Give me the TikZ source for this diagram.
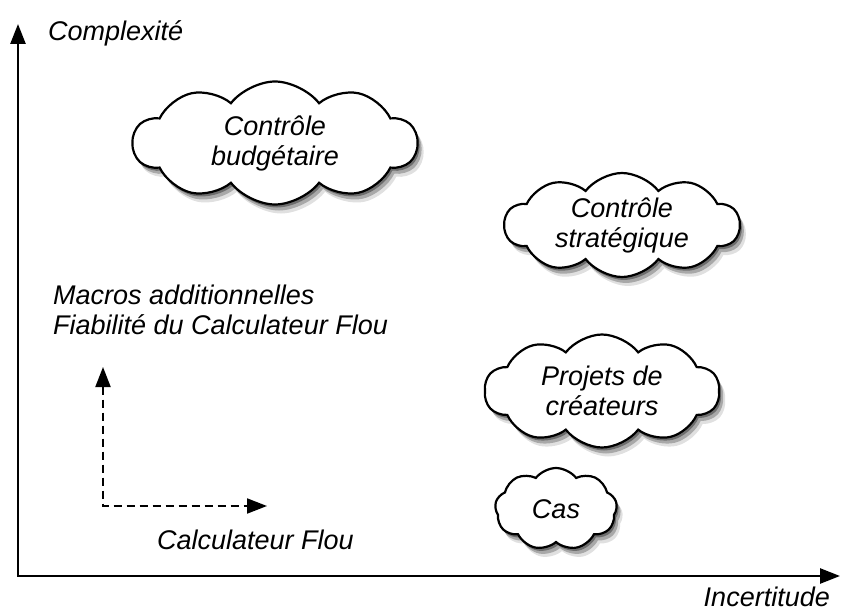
\documentclass[tikz,border=0pt]{standalone}
\usepackage{fontspec}
\setmainfont{Liberation Sans}
\usepackage{tikz}
\usetikzlibrary{arrows.meta,shapes.symbols,shadows}

\begin{document}
\begin{tikzpicture}[x=1pt,y=-1pt,>={Triangle[length=20pt,width=15pt]},
  every node/.style={font=\itshape\fontsize{27}{30}\selectfont,inner sep=0pt},
  cloud node/.style={cloud,cloud puffs=10,cloud puff arc=105,cloud ignores aspect,
    draw,line width=2.2pt,fill=white,align=center,
    drop shadow={shadow xshift=2pt,shadow yshift=-3pt,opacity=.35,fill=black},
    drop shadow={shadow xshift=4pt,shadow yshift=-6pt,opacity=.25,fill=black},
    drop shadow={shadow xshift=6pt,shadow yshift=-9pt,opacity=.12,fill=black}},
  axis/.style={line width=2.6pt,<->},
  dashed arrow/.style={line width=2pt,dash pattern=on 8pt off 5pt,<->}]
  \useasboundingbox (0,0) rectangle (841,610);

  % axes
  \coordinate (origin) at (18,576);
  \coordinate (ytip) at (18,24);
  \coordinate (xtip) at (840,576);
  \draw[axis] (ytip) -- (origin) -- (xtip);
  \node[anchor=west] (cplx) at (48,33) {Complexité};
  \node[anchor=base east] (incert) at (830,606) {Incertitude};

  % clouds
  \node[cloud node,minimum width=284pt,minimum height=123pt] (budget) at (275,143) {Contrôle\\budgétaire};
  \node[cloud node,minimum width=235pt,minimum height=104pt] (strat) at (622,225) {Contrôle\\stratégique};
  \node[cloud node,minimum width=235pt,minimum height=113pt] (proj) at (602,391) {Projets de\\créateurs};
  \node[cloud node,cloud puffs=9,minimum width=122pt,minimum height=82pt] (cas) at (556,509) {Cas};

  % outils
  \node[anchor=west,align=left] (macros) at (53,310) {Macros additionnelles\\Fiabilité du Calculateur Flou};
  \node[anchor=west] (calc) at (157,540) {Calculateur Flou};
  \coordinate (corner) at (103,506);
  \coordinate (uptip) at (103,367);
  \coordinate (righttip) at (267,506);
  \draw[dashed arrow] (uptip) -- (corner) -- (righttip);
\end{tikzpicture}
\end{document}
